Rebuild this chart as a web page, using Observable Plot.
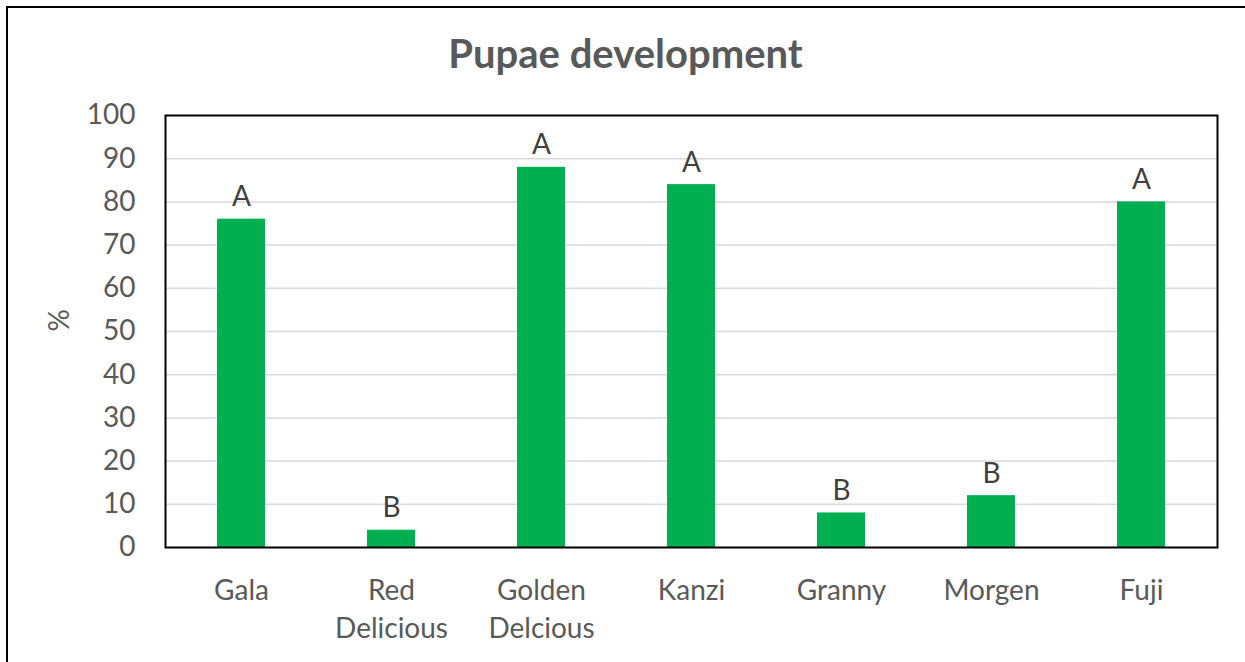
<!DOCTYPE html>
<html>
<head>
<meta charset="utf-8">
<script src="https://cdn.jsdelivr.net/npm/d3@7"></script>
<script src="https://cdn.jsdelivr.net/npm/@observablehq/plot@0.6"></script>
<style>
  html, body { margin: 0; padding: 0; background: #fff; width: 1245px; height: 662px; overflow: hidden; }
  #chart { position: absolute; left: 0; top: 0; }
  #border { position: absolute; left: 6px; top: 6px; width: 1400px; height: 800px;
            border-left: 2px solid #000; border-top: 2px solid #000; pointer-events: none; }
</style>
</head>
<body>
<div id="chart"></div>
<div id="border"></div>
<script>
const categories = ["Gala", "Red Delicious", "Golden Delcious", "Kanzi", "Granny", "Morgen", "Fuji"];
const categoryLabels = ["Gala", "Red\nDelicious", "Golden\nDelcious", "Kanzi", "Granny", "Morgen", "Fuji"];
const values = [76, 4, 88, 84, 8, 12, 80];
const letters = ["A", "B", "A", "A", "B", "B", "A"];
const yTicks = [0, 10, 20, 30, 40, 50, 60, 70, 80, 90, 100];
const title = "Pupae development";
const yLabel = "%";

const data = categories.map((c, i) => ({ cat: c, value: values[i], letter: letters[i] }));
const labelOf = new Map(categories.map((c, i) => [c, categoryLabels[i]]));

const FONT = "Lato, 'Open Sans', sans-serif";
const TEXT = "#595959";

const chart = Plot.plot({
  width: 1245,
  height: 662,
  marginLeft: 165,
  marginRight: 28,
  marginTop: 115,
  marginBottom: 115,
  style: { fontFamily: FONT, background: "transparent", overflow: "visible" },
  x: { domain: categories, paddingInner: 0.68, paddingOuter: 0.34, label: null },
  y: { domain: [0, 100], label: null },
  marks: [
    Plot.ruleY(yTicks.filter(t => t > 0 && t < 100), { stroke: "#d9d9d9", strokeWidth: 1.5 }),
    Plot.barY(data, { x: "cat", y: "value", fill: "#00B050" }),
    Plot.text(data, { x: "cat", y: "value", text: "letter", lineAnchor: "bottom", dy: -13,
                      fontSize: 28, fill: "#404040" }),
    Plot.frame({ stroke: "#000", strokeWidth: 2 }),
    Plot.axisY({ ticks: yTicks, tickSize: 0, tickPadding: 30, fontSize: 28, color: TEXT,
                 label: null }),
    Plot.axisX({ tickSize: 0, tickPadding: 25, fontSize: 28, color: TEXT, label: null,
                 lineHeight: 1.36, tickFormat: d => labelOf.get(d) }),
    Plot.text([yLabel], { frameAnchor: "left", dx: -105, rotate: -90, text: d => d,
                          fontSize: 28, fill: TEXT }),
    Plot.text([title], { frameAnchor: "top", dx: -66, dy: -48, lineAnchor: "bottom", text: d => d,
                         fontSize: 40, fontWeight: "bold", fill: TEXT })
  ]
});
document.getElementById("chart").appendChild(chart);
</script>
</body>
</html>
